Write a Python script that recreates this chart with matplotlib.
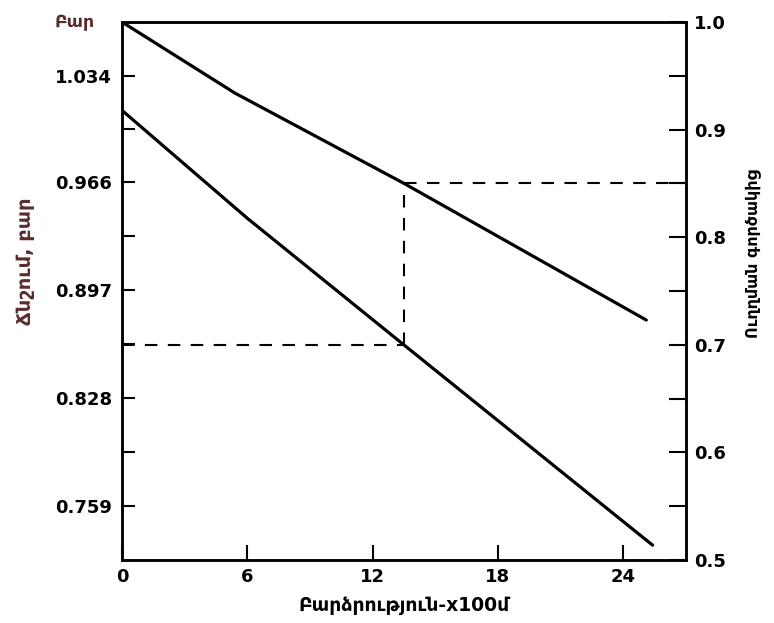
import matplotlib
matplotlib.use("Agg")
import matplotlib.pyplot as plt
from matplotlib.ticker import FixedLocator, FormatStrFormatter

plt.rcParams['font.family'] = ['DejaVu Sans']
plt.rcParams['font.weight'] = 'bold'

# Altitude (x100 m)
altitude_pressure = [0, 6, 13.5, 25.4]
pressure_bar = [1.012, 0.943, 0.862, 0.734]

altitude_ratio = [0, 5.4, 13.5, 25.1]
pressure_ratio = [1.0, 0.934, 0.85, 0.723]

x_ticks = [0, 6, 12, 18, 24]
left_ticks = [0.759, 0.828, 0.897, 0.966, 1.034]
right_ticks = [0.5, 0.6, 0.7, 0.8, 0.9, 1.0]
right_minor = [0.55, 0.65, 0.75, 0.85, 0.95]

marker_altitude = 13.5
marker_pressure = 0.862
marker_ratio = 0.85

left_lim = (0.7245, 1.0685)
right_lim = (0.5, 1.0)
x_lim = (0, 27)

label_color = '#5a2b2b'


def ratio_to_bar(r):
    return left_lim[0] + (r - right_lim[0]) / (right_lim[1] - right_lim[0]) * (left_lim[1] - left_lim[0])


fig = plt.figure(figsize=(7.74, 6.23), dpi=100)
ax = fig.add_axes([0.1576, 0.1011, 0.7287, 0.8636])
ax2 = ax.twinx()

ax.set_xlim(*x_lim)
ax.set_ylim(*left_lim)
ax2.set_ylim(*right_lim)

# curves
ax.plot(altitude_pressure, pressure_bar, color='black', lw=2.3, solid_capstyle='round')
ax2.plot(altitude_ratio, pressure_ratio, color='black', lw=2.3, solid_capstyle='round')

# reading guides
dash = dict(color='black', lw=1.5, dashes=(6, 5))
ax.plot([x_lim[0], marker_altitude], [marker_pressure, marker_pressure], **dash)
ax.plot([marker_altitude, marker_altitude], [marker_pressure, ratio_to_bar(marker_ratio)], **dash)
ax2.plot([marker_altitude, x_lim[1]], [marker_ratio, marker_ratio], **dash)

# ticks
ax.yaxis.set_major_locator(FixedLocator(left_ticks))
minor_left = [(a + b) / 2 for a, b in zip(left_ticks[:-1], left_ticks[1:])]
ax.yaxis.set_minor_locator(FixedLocator(minor_left))
ax.yaxis.set_major_formatter(FormatStrFormatter('%.3f'))
ax.xaxis.set_major_locator(FixedLocator(x_ticks))

ax2.yaxis.set_major_locator(FixedLocator(right_ticks))
ax2.yaxis.set_minor_locator(FixedLocator(right_minor))
ax2.yaxis.set_major_formatter(FormatStrFormatter('%.1f'))

for a in (ax, ax2):
    for s in a.spines.values():
        s.set_linewidth(1.8)

ax.tick_params(axis='y', which='both', direction='in', length=9, width=1.5,
               labelsize=13, pad=7, right=False)
ax.tick_params(axis='x', which='both', direction='in', length=11, width=1.5,
               labelsize=13, pad=6, top=False)
ax2.tick_params(axis='y', which='both', direction='in', length=12, width=1.5,
                labelsize=13, pad=6)

ax.set_xlabel('Բարձրություն-x100մ', fontsize=13.5, fontweight='bold', labelpad=7)
ax.set_ylabel('Ճնշում, բար', fontsize=14, fontweight='bold', color=label_color)
ax.yaxis.set_label_coords(-0.155, 0.555)
ax2.set_ylabel('Ուղղման գործակից', fontsize=11.5, fontweight='bold', rotation=90)
ax2.yaxis.set_label_coords(1.106, 0.57)

ax.text(-0.048, 1.0, 'Բար', transform=ax.transAxes, ha='right', va='center',
        fontsize=12.5, fontweight='bold', color=label_color)

fig.savefig('out.png', dpi=100)
